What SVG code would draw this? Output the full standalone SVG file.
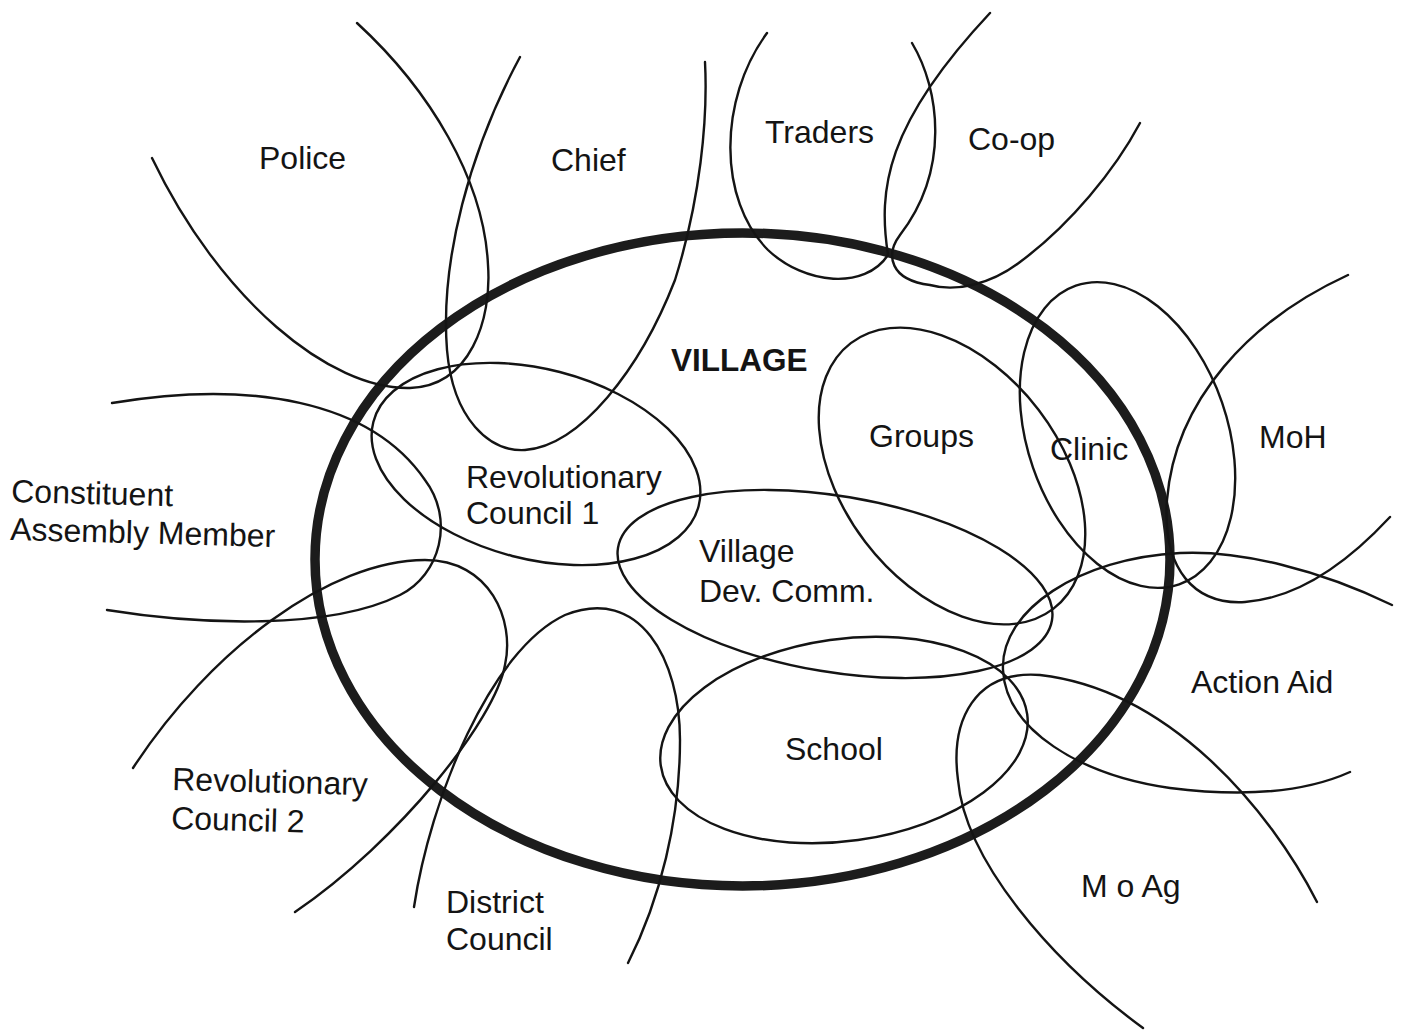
<svg xmlns="http://www.w3.org/2000/svg" width="1405" height="1032" viewBox="0 0 1405 1032">
  <style>
    .loop { fill: none; stroke: #141414; stroke-width: 2.4; stroke-linecap: round; }
    .ring { fill: none; stroke: #1c1c1c; stroke-width: 9.5; }
    .lbl { font-family: "Liberation Sans", Arial, Helvetica, sans-serif; font-size: 32px; fill: #141414; }
    .title { font-family: "Liberation Sans", Arial, Helvetica, sans-serif; font-size: 31.5px; font-weight: bold; fill: #141414; }
  </style>
  <rect width="1405" height="1032" fill="#ffffff"/>

  <!-- the village boundary -->
  <g id="village">
    <ellipse class="ring" cx="742.5" cy="559.5" rx="427.5" ry="326.5"/>
    <text class="title" x="671" y="371">VILLAGE</text>
  </g>

  <!-- inner bodies -->
  <g id="revolutionary-council-1">
    <ellipse class="loop" cx="536" cy="464" rx="168" ry="95" transform="rotate(14.5 536 464)"/>
    <text class="lbl" x="466" y="488">Revolutionary</text>
    <text class="lbl" x="466" y="524">Council 1</text>
  </g>

  <g id="village-dev-comm">
    <ellipse class="loop" cx="835" cy="584" rx="220" ry="88" transform="rotate(9.5 835 584)"/>
    <text class="lbl" x="699" y="562">Village</text>
    <text class="lbl" x="699" y="602">Dev. Comm.</text>
  </g>

  <g id="groups">
    <ellipse class="loop" cx="952" cy="476" rx="167" ry="109" transform="rotate(52.7 952 476)"/>
    <text class="lbl" x="869" y="447">Groups</text>
  </g>

  <g id="clinic">
    <ellipse class="loop" cx="1127.5" cy="435" rx="158" ry="100" transform="rotate(70.9 1127.5 435)"/>
    <text class="lbl" x="1050" y="460">Clinic</text>
  </g>

  <g id="school">
    <ellipse class="loop" cx="844" cy="740" rx="185" ry="101" transform="rotate(-8 844 740)"/>
    <text class="lbl" x="785" y="760">School</text>
  </g>

  <!-- outside bodies reaching into the village -->
  <g id="police">
    <path class="loop" d="M152,158 C220,300 330,390 410,388 C470,386 492,320 488,265 C484,180 430,90 357,23"/>
    <text class="lbl" x="259" y="169">Police</text>
  </g>

  <g id="chief">
    <path class="loop" d="M520,57 C470,150 440,260 447,350 C453,420 490,452 525,450 C580,446 640,370 675,280 C700,200 708,120 705,62"/>
    <text class="lbl" x="551" y="171">Chief</text>
  </g>

  <g id="traders">
    <path class="loop" d="M767,33 C718,100 718,200 768,250 C805,285 865,290 888,255 C878,190 885,125 990,13"/>
    <text class="lbl" x="765" y="143">Traders</text>
  </g>

  <g id="co-op">
    <path class="loop" d="M912,43 C940,90 950,170 900,235 C885,255 890,280 930,285 C955,292 990,285 1020,262 C1070,225 1115,170 1140,123"/>
    <text class="lbl" x="968" y="150">Co-op</text>
  </g>

  <g id="moh">
    <path class="loop" d="M1348,275 C1250,320 1175,400 1167,500 C1162,570 1195,605 1245,602 C1300,598 1350,560 1390,517"/>
    <text class="lbl" x="1259" y="448">MoH</text>
  </g>

  <g id="action-aid">
    <path class="loop" d="M1392,605 C1320,570 1240,550 1180,553 C1080,558 1000,610 1003,670 C1006,730 1080,775 1170,788 C1250,798 1310,790 1350,772"/>
    <text class="lbl" x="1191" y="693">Action Aid</text>
  </g>

  <g id="m-o-ag">
    <path class="loop" d="M1317,902 C1270,810 1170,690 1040,675 C975,670 950,720 958,780 C965,860 1050,960 1143,1028"/>
    <text class="lbl" x="1081" y="897">M o Ag</text>
  </g>

  <g id="district-council">
    <path class="loop" d="M414,907 C430,800 490,650 565,615 C640,585 680,660 680,740 C680,820 660,900 628,963"/>
    <text class="lbl" x="446" y="913">District</text>
    <text class="lbl" x="446" y="950">Council</text>
  </g>

  <g id="revolutionary-council-2">
    <path class="loop" d="M133,768 C210,650 330,560 425,560 C490,560 515,620 505,665 C495,720 400,840 295,912"/>
    <g transform="rotate(1.5 172 790)">
      <text class="lbl" x="172" y="790">Revolutionary</text>
      <text class="lbl" x="172" y="829">Council 2</text>
    </g>
  </g>

  <g id="constituent-assembly-member">
    <path class="loop" d="M112,403 C250,380 370,400 425,480 C455,520 440,575 400,595 C330,630 200,625 107,610"/>
    <g transform="rotate(1.5 11 502)">
      <text class="lbl" x="11" y="502">Constituent</text>
      <text class="lbl" x="11" y="540">Assembly Member</text>
    </g>
  </g>
</svg>
